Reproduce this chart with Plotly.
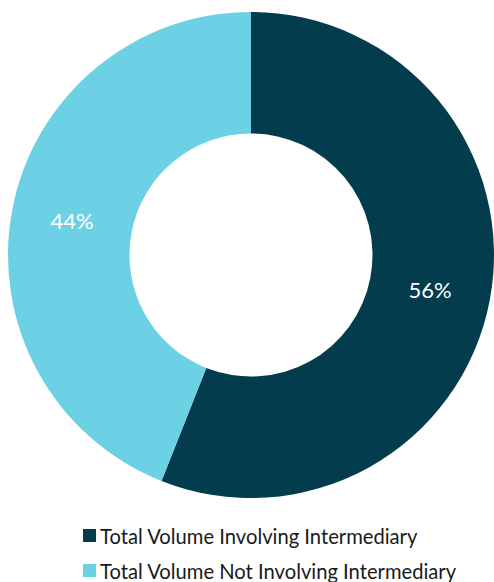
import plotly.graph_objects as go

# Volume split by whether an intermediary was involved
labels = ["Total Volume Involving Intermediary", "Total Volume Not Involving Intermediary"]
shares = [56, 44]
colors = ["#033c4c", "#6dd1e6"]

W, H = 494, 582

fig = go.Figure(
    go.Pie(
        labels=labels,
        values=shares,
        hole=0.5,
        sort=False,
        direction="clockwise",
        rotation=0,
        marker=dict(colors=colors, line=dict(width=0)),
        textinfo="percent",
        textposition="inside",
        insidetextorientation="horizontal",
        textfont=dict(family="Lato", size=22, color="white"),
        domain=dict(x=[8 / W, 1], y=[(H - 500) / H, (H - 10) / H]),
        hoverinfo="label+percent",
        showlegend=False,
    )
)

# Legend below the ring: square swatch followed by the label
legend_rows_px = [535.5, 570.5]
shapes, annotations = [], []
for lab, col, ypx in zip(labels, colors, legend_rows_px):
    shapes.append(dict(
        type="rect", xref="paper", yref="paper",
        x0=83 / W, x1=96 / W,
        y0=(H - ypx - 6.5) / H, y1=(H - ypx + 6.5) / H,
        fillcolor=col, line=dict(width=0),
    ))
    annotations.append(dict(
        text=lab, xref="paper", yref="paper",
        x=98 / W, y=(H - ypx) / H,
        xanchor="left", yanchor="middle", showarrow=False,
        font=dict(family="Lato", size=20.2, color="#1a1a1a"),
    ))

fig.update_layout(
    width=W,
    height=H,
    margin=dict(l=0, r=0, t=0, b=0),
    paper_bgcolor="white",
    plot_bgcolor="white",
    showlegend=False,
    shapes=shapes,
    annotations=annotations,
)

fig.write_html("out.html")
